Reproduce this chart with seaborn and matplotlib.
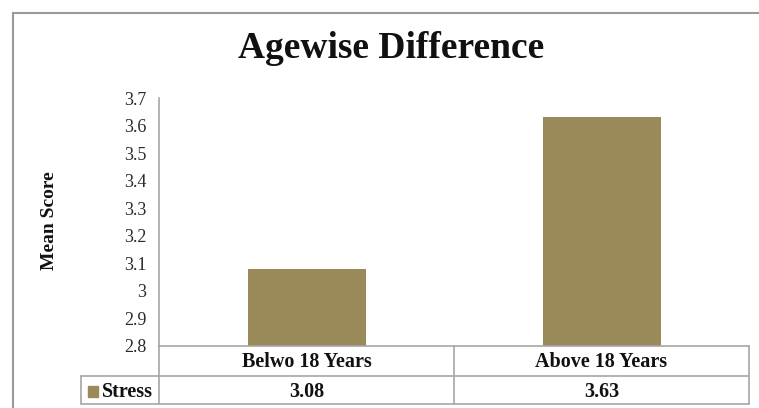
import matplotlib
matplotlib.use("Agg")
import matplotlib.pyplot as plt
from matplotlib.lines import Line2D
from matplotlib.patches import Rectangle
import seaborn as sns
import pandas as pd

categories = ["Belwo 18 Years", "Above 18 Years"]
series_name = "Stress"
values = [3.08, 3.63]
value_labels = ["3.08", "3.63"]
yticks = [2.8, 2.9, 3.0, 3.1, 3.2, 3.3, 3.4, 3.5, 3.6, 3.7]
ytick_labels = ["2.8", "2.9", "3", "3.1", "3.2", "3.3", "3.4", "3.5", "3.6", "3.7"]

BAR = "#9a8959"
GRID = "#a6a6a6"
SERIF = ["Liberation Serif", "DejaVu Serif"]

sns.set_theme(style="white")
plt.rcParams["font.family"] = SERIF

W, H = 759, 408
fig = plt.figure(figsize=(W / 100, H / 100), dpi=100)

def fx(x):
    return x / W

def fy(y):
    return 1 - y / H

L, R, T, B = 159, 749, 98, 346
ax = fig.add_axes([fx(L), fy(B), fx(R) - fx(L), fy(T) - fy(B)])

df = pd.DataFrame({"cat": categories, "val": values})
sns.barplot(data=df, x="cat", y="val", color=BAR, width=0.4, ax=ax,
            saturation=1, edgecolor="none")
ax.set_ylim(2.8, 3.7)
ax.set_yticks(yticks)
ax.set_yticklabels(ytick_labels, fontsize=13, color="#2a2a2a")
ax.tick_params(axis="y", length=0, pad=9)
ax.set_xticks([])
ax.set_xlabel("")
ax.set_ylabel("")
for s in ["top", "right"]:
    ax.spines[s].set_visible(False)
for s in ["left", "bottom"]:
    ax.spines[s].set_color(GRID)
    ax.spines[s].set_linewidth(1.2)

# outer chart border
fig.add_artist(Line2D([fx(13), fx(13)], [fy(13), fy(H + 5)], color="#9a9a9a", lw=1.5))
fig.add_artist(Line2D([fx(13), fx(W + 5)], [fy(13), fy(13)], color="#9a9a9a", lw=1.5))

# title and y label
fig.text(fx(391), fy(58), "Agewise Difference", ha="center", va="baseline",
         fontsize=27, fontweight="bold", color="#111111")
fig.text(fx(50), fy(221), "Mean Score", ha="center", va="center", rotation=90,
         fontsize=14, fontweight="bold", color="#111111")

# data table
r1, r2, r3 = 346, 376, 404
mid = (L + R) / 2
def hline(x0, x1, y):
    fig.add_artist(Line2D([fx(x0), fx(x1)], [fy(y), fy(y)], color=GRID, lw=1.2))
def vline(x, y0, y1):
    fig.add_artist(Line2D([fx(x), fx(x)], [fy(y0), fy(y1)], color=GRID, lw=1.2))

hline(81, R, r2)
hline(81, R, r3)
vline(81, r2, r3)
vline(L, r1, r3)
vline(mid, r1, r3)
vline(R, r1, r3)

centers = [(L + mid) / 2, (mid + R) / 2]
for c, cat, lab in zip(centers, categories, value_labels):
    fig.text(fx(c), fy(367), cat, ha="center", va="baseline",
             fontsize=14.5, fontweight="bold", color="#111111")
    fig.text(fx(c), fy(397), lab, ha="center", va="baseline",
             fontsize=14.5, fontweight="bold", color="#111111")

fig.add_artist(Rectangle((fx(88), fy(397)), fx(98) - fx(88), fy(386) - fy(397),
                         transform=fig.transFigure, color=BAR))
fig.text(fx(102), fy(397), series_name, ha="left", va="baseline",
         fontsize=14.5, fontweight="bold", color="#111111")

fig.savefig("out.png", dpi=100)
